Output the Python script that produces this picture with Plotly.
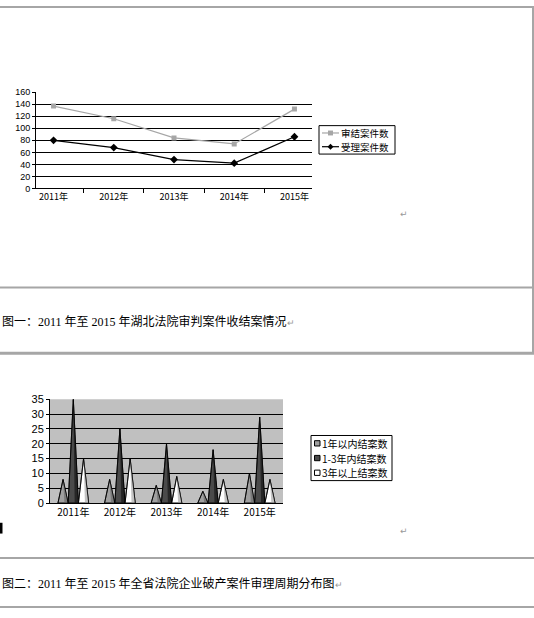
import plotly.graph_objects as go

W, H = 534, 618
def px(x): return x / W
def py(y): return 1 - y / H

# ---- data ----
years = ["2011年", "2012年", "2013年", "2014年", "2015年"]
closed_cases = [137, 116, 84, 74, 132]      # 审结案件数
accepted_cases = [80, 68, 48, 42, 86]       # 受理案件数

bk_years = ["2011年", "2012年", "2013年", "2014年", "2015年"]
within_1y = [8, 8, 6, 4, 10]        # 1年以内结案数
within_1_3y = [35, 25, 20, 18, 29]  # 1-3年内结案数
over_3y = [15, 15, 9, 8, 8]         # 3年以上结案数

y1_ticks = [0, 20, 40, 60, 80, 100, 120, 140, 160]
y2_ticks = [0, 5, 10, 15, 20, 25, 30, 35]

CJK = "Noto Sans CJK SC, SimSun, sans-serif"
fig = go.Figure()

line_series = [
    ("审结案件数", closed_cases, "#a6a6a6", "square", 5),
    ("受理案件数", accepted_cases, "#000000", "diamond", 6),
]
# ---- chart 1: line chart ----
for name, vals, col, sym, sz in line_series:
    fig.add_trace(go.Scatter(
        x=years, y=vals, name=name, mode="lines+markers",
        line=dict(color=col, width=1.2),
        marker=dict(symbol=sym, size=sz, color=col),
        showlegend=False, xaxis="x", yaxis="y"))

# ---- chart 2: cones ----
cone_series = [
    ("1年以内结案数", within_1y, "#a0a0a0", "#7a7a7a", -0.22),
    ("1-3年内结案数", within_1_3y, "#4a4a4a", "#262626", 0.0),
    ("3年以上结案数", over_3y, "#ffffff", "#c4c4c4", 0.22),
]
half = 0.11
for name, vals, c_main, c_dark, off in cone_series:
    xs, ys, xr, yr = [], [], [], []
    for i, v in enumerate(vals):
        c = i + off
        xs += [c - half, c, c + half, c - half, None]
        ys += [0, v, 0, 0, None]
        xr += [c + 0.03, c, c + half, c + 0.03, None]
        yr += [0, v, 0, 0, None]
    fig.add_trace(go.Scatter(
        x=xs, y=ys, name=name, mode="lines", fill="toself",
        fillcolor=c_main, line=dict(color="#000000", width=0.8),
        showlegend=False, xaxis="x2", yaxis="y2"))
    fig.add_trace(go.Scatter(
        x=xr, y=yr, mode="lines", fill="toself", fillcolor=c_dark,
        line=dict(color="rgba(0,0,0,0)", width=0),
        showlegend=False, hoverinfo="skip", xaxis="x2", yaxis="y2"))
    fig.add_trace(go.Scatter(
        x=xs, y=ys, mode="lines", line=dict(color="#000000", width=0.8),
        showlegend=False, hoverinfo="skip", xaxis="x2", yaxis="y2"))

fig.update_layout(
    width=W, height=H,
    margin=dict(l=0, r=0, t=0, b=0),
    paper_bgcolor="white", plot_bgcolor="white",
    font=dict(family=CJK, color="#000000"),
    showlegend=False,
    xaxis=dict(domain=[px(36), px(312)], anchor="y", type="category",
               tickson="boundaries", ticks="outside", ticklen=4,
               tickcolor="#000", showline=True, linecolor="#000",
               showgrid=False, tickfont=dict(size=9, family=CJK)),
    yaxis=dict(domain=[py(186), py(88)], anchor="x", range=[0, 160],
               tickvals=y1_ticks, ticks="outside", ticklen=3,
               tickcolor="#000", showline=True, linecolor="#000",
               showgrid=True, gridcolor="#000", gridwidth=1,
               zeroline=False, tickfont=dict(size=9, family="Liberation Sans")),
    xaxis2=dict(domain=[px(50), px(283)], anchor="y2", range=[-0.5, 4.5],
                tickvals=list(range(len(bk_years))), ticktext=bk_years,
                ticks="", showline=True, linecolor="#000", showgrid=False,
                zeroline=False, tickfont=dict(size=10, family=CJK)),
    yaxis2=dict(domain=[py(507), py(401)], anchor="x2", range=[0, 35],
                tickvals=y2_ticks, ticks="outside", ticklen=3,
                tickcolor="#000", showline=True, linecolor="#000",
                showgrid=True, gridcolor="#000", gridwidth=1,
                zeroline=False, tickfont=dict(size=11, family="Liberation Sans")),
)

shapes = []
annotations = []
# grey plot background for chart 2
shapes.append(dict(type="rect", xref="x2 domain", yref="y2 domain", x0=0, x1=1, y0=0, y1=1,
                   fillcolor="#c0c0c0", line=dict(width=0), layer="below"))

# ---- legend 1 (line samples) ----
L1 = dict(x0=319, x1=395, y0=122, y1=151)
shapes.append(dict(type="rect", xref="paper", yref="paper", x0=px(L1["x0"]), x1=px(L1["x1"]),
                   y0=py(L1["y1"]), y1=py(L1["y0"]), line=dict(color="#000", width=1),
                   fillcolor="white"))
for k, (name, vals, col, sym, sz) in enumerate(line_series):
    yy = 129.5 + k * 14
    shapes.append(dict(type="line", xref="paper", yref="paper", x0=px(322), x1=px(339),
                       y0=py(yy), y1=py(yy), line=dict(color=col, width=1.2)))
    cx = 330.5
    if sym == "square":
        shapes.append(dict(type="rect", xref="paper", yref="paper", x0=px(cx - 2.5), x1=px(cx + 2.5),
                           y0=py(yy + 2.5), y1=py(yy - 2.5), line=dict(width=0), fillcolor=col))
    else:
        shapes.append(dict(type="path", xref="paper", yref="paper",
                           path=f"M {px(cx-3)},{py(yy)} L {px(cx)},{py(yy-3)} L {px(cx+3)},{py(yy)} L {px(cx)},{py(yy+3)} Z",
                           line=dict(width=0), fillcolor=col))
    annotations.append(dict(xref="paper", yref="paper", x=px(340), y=py(yy), xanchor="left",
                            yanchor="middle", showarrow=False, text=name, borderpad=0,
                            font=dict(size=9.5, family=CJK, color="#000")))

# ---- legend 2 (squares) ----
L2 = dict(x0=311, x1=392, y0=438, y1=484)
shapes.append(dict(type="rect", xref="paper", yref="paper", x0=px(L2["x0"]), x1=px(L2["x1"]),
                   y0=py(L2["y1"]), y1=py(L2["y0"]), line=dict(color="#000", width=1),
                   fillcolor="white"))
for k, (name, vals, c_main, c_dark, off) in enumerate(cone_series):
    yy = 446 + k * 15
    shapes.append(dict(type="rect", xref="paper", yref="paper", x0=px(314.5), x1=px(320),
                       y0=py(yy + 2.7), y1=py(yy - 2.7), line=dict(color="#000", width=1),
                       fillcolor=c_main))
    annotations.append(dict(xref="paper", yref="paper", x=px(321), y=py(yy), xanchor="left",
                            yanchor="middle", showarrow=False, text=name, borderpad=0,
                            font=dict(size=10, family=CJK, color="#000")))

gray = "#a6a6a6"
shapes.append(dict(type="line", xref="paper", yref="paper", x0=0, x1=px(533), y0=py(1), y1=py(1), line=dict(color=gray, width=2)))
shapes.append(dict(type="line", xref="paper", yref="paper", x0=px(533), x1=px(533), y0=py(0), y1=py(355), line=dict(color=gray, width=2)))
shapes.append(dict(type="line", xref="paper", yref="paper", x0=0, x1=px(533), y0=py(287), y1=py(287), line=dict(color=gray, width=2)))
shapes.append(dict(type="line", xref="paper", yref="paper", x0=0, x1=px(534), y0=py(354), y1=py(354), line=dict(color=gray, width=3)))
shapes.append(dict(type="line", xref="paper", yref="paper", x0=0, x1=px(534), y0=py(563), y1=py(563), line=dict(color=gray, width=2)))
shapes.append(dict(type="line", xref="paper", yref="paper", x0=0, x1=px(534), y0=py(613), y1=py(613), line=dict(color=gray, width=2)))
shapes.append(dict(type="rect", xref="paper", yref="paper", x0=0, x1=px(2.5), y0=py(538), y1=py(527), line=dict(width=0), fillcolor="#000"))

SERIF = "Liberation Serif, Times New Roman, serif"
def cap(prefix, mid):
    return (f"{prefix}<span style='font-family:{SERIF}'>2011 </span>年至"
            f"<span style='font-family:{SERIF}'> 2015 </span>{mid}")

captions = [
    (321, cap("图一：", "年湖北法院审判案件收结案情况")),
    (588, cap("图二：", "年全省法院企业破产案件审理周期分布图")),
]
for y, t in captions:
    annotations.append(dict(xref="paper", yref="paper", x=0, y=py(y),
                            xanchor="left", yanchor="middle", showarrow=False,
                            text=t + "<span style='color:#999999;font-size:9px'>↵</span>",
                            font=dict(size=12, family=CJK, color="#000")))
for (x, y) in [(404, 212), (404, 535)]:
    annotations.append(dict(xref="paper", yref="paper", x=px(x), y=py(y),
                            xanchor="center", yanchor="middle", showarrow=False,
                            text="↵", font=dict(size=9, color="#999999", family="DejaVu Sans")))
fig.update_layout(shapes=shapes, annotations=annotations)

fig.write_html("out.html", config={"displayModeBar": False},
               post_script="document.body.style.margin='0';document.body.style.overflow='hidden';")
